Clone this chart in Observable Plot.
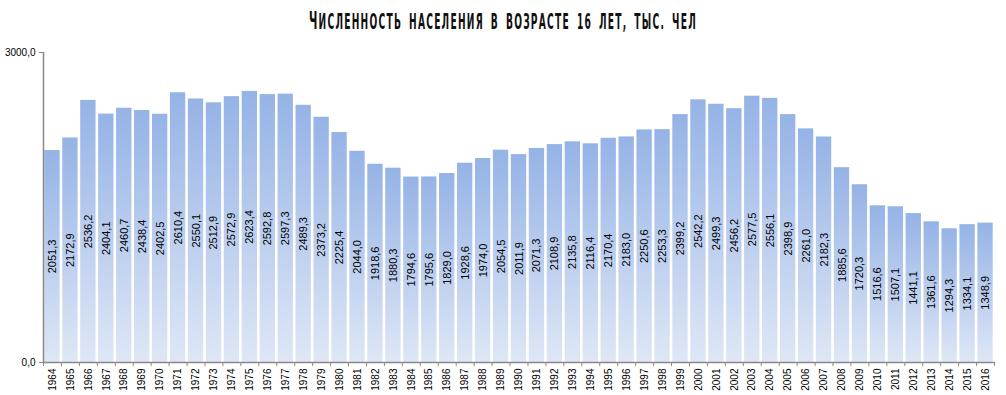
<!DOCTYPE html>
<html>
<head>
<meta charset="utf-8">
<script src="https://cdn.jsdelivr.net/npm/d3@7"></script>
<script src="https://cdn.jsdelivr.net/npm/@observablehq/plot@0.6"></script>
<style>
  html, body { margin: 0; padding: 0; background: #fff; }
  #title {
    height: 40px; width: 1006px; position: relative; overflow: hidden;
  }
  #title span {
    position: absolute; left: 503px; top: 21px;
    white-space: nowrap;
    font-family: "DejaVu Sans", sans-serif; font-weight: bold;
    font-size: 22px; line-height: 22px; text-transform: uppercase; color: #111;
    letter-spacing: 3px; word-spacing: 6px;
    transform-origin: center center;
  }
  #title span b { font-size: 25px; }
</style>
</head>
<body>
<div id="title"><span id="tt"><b>Ч</b>исленность населения в возрасте 16 лет, тыс. чел</span></div>
<div id="chart"></div>
<script>
const years = [1964,1965,1966,1967,1968,1969,1970,1971,1972,1973,1974,1975,1976,1977,1978,1979,1980,1981,1982,1983,1984,1985,1986,1987,1988,1989,1990,1991,1992,1993,1994,1995,1996,1997,1998,1999,2000,2001,2002,2003,2004,2005,2006,2007,2008,2009,2010,2011,2012,2013,2014,2015,2016];
const values = [2051.3,2172.9,2536.2,2404.1,2460.7,2438.4,2402.5,2610.4,2550.1,2512.9,2572.9,2623.4,2592.8,2597.3,2489.3,2373.2,2225.4,2044.0,1918.6,1880.3,1794.6,1795.6,1829.0,1928.6,1974.0,2054.5,2011.9,2071.3,2108.9,2135.8,2116.4,2170.4,2183.0,2250.6,2253.3,2399.2,2542.2,2499.3,2456.2,2577.5,2556.1,2398.9,2261.0,2182.3,1885.6,1720.3,1516.6,1507.1,1441.1,1361.6,1294.3,1334.1,1348.9];
const yTicks = [0, 3000];

const tt = document.getElementById("tt");
const w = tt.getBoundingClientRect().width, h = tt.getBoundingClientRect().height;
tt.style.transform = `translate(${-w / 2}px, ${-h / 2}px) scaleX(${388 / w})`;

const data = years.map((year, i) => ({year, value: values[i]}));
const fmt = v => d3.format(".1f")(v).replace(".", ",");
const x0 = years[0] - 0.5, x1 = years[years.length - 1] + 0.5;
const boundaries = years.map(y => y - 0.5).concat([x1]);

const chart = Plot.plot({
  width: 1006,
  height: 355,
  marginTop: 12,
  marginBottom: 33,
  marginLeft: 43,
  marginRight: 12,
  style: {fontFamily: "'Liberation Sans', Arial, sans-serif", fontSize: "10px", color: "#000", background: "#fff"},
  x: {domain: [x0, x1], axis: null},
  y: {domain: [0, 3000], axis: null},
  marks: [
    Plot.rectY(data, {x1: d => d.year - 0.5, x2: d => d.year + 0.5, y: "value", insetLeft: 1.3, insetRight: 1.3, fill: "url(#barGrad)"}),
    Plot.text(data, {x: "year", y: d => d.value / 2, text: d => fmt(d.value), rotate: -90, fontSize: 11, fill: "#000"}),
    Plot.ruleY([0], {stroke: "#888", strokeWidth: 1.5}),
    Plot.ruleX([x0], {y1: 0, y2: 3000, stroke: "#888", strokeWidth: 1.5}),
    Plot.axisX({ticks: years, tickFormat: d => String(d), tickSize: 0, tickPadding: 6, tickRotate: -90, fontSize: 10, label: null}),
    Plot.axisX({ticks: boundaries, tickFormat: () => "", tickSize: 4, stroke: "#888", label: null}),
    Plot.axisY({ticks: yTicks, tickFormat: fmt, tickSize: 4, tickPadding: 4, stroke: "#888", fontSize: 10, label: null})
  ]
});

const ns = "http://www.w3.org/2000/svg";
const defs = document.createElementNS(ns, "defs");
const grad = document.createElementNS(ns, "linearGradient");
grad.setAttribute("id", "barGrad");
grad.setAttribute("x1", "0"); grad.setAttribute("y1", "0");
grad.setAttribute("x2", "0"); grad.setAttribute("y2", "1");
[["0%", "#95b3e6"], ["100%", "#dfe7f6"]].forEach(([o, c]) => {
  const s = document.createElementNS(ns, "stop");
  s.setAttribute("offset", o); s.setAttribute("stop-color", c);
  grad.appendChild(s);
});
defs.appendChild(grad);
chart.insertBefore(defs, chart.firstChild);
document.getElementById("chart").appendChild(chart);
</script>
</body>
</html>
